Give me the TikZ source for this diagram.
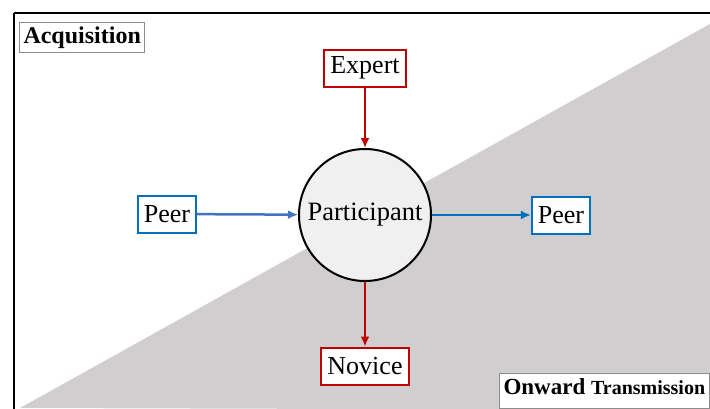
\documentclass[tikz,border=0pt]{standalone}
\usepackage{fontspec}
\setmainfont{Liberation Serif}
\usetikzlibrary{arrows.meta, positioning}
\definecolor{expertred}{RGB}{192,0,0}
\definecolor{peerblue}{RGB}{0,112,192}
\definecolor{peerlight}{RGB}{68,114,196}
\definecolor{shadegray}{RGB}{208,206,206}
\definecolor{circlefill}{RGB}{240,240,240}

\begin{document}
\begin{tikzpicture}[x=1pt, y=-1pt,
    redbox/.style={draw=expertred, line width=2pt, fill=white, inner xsep=6pt, minimum height=37pt, font=\fontsize{26}{26}\selectfont},
    bluebox/.style={draw=peerblue, line width=2pt, fill=white, inner xsep=6pt, minimum height=37pt, font=\fontsize{26}{26}\selectfont},
    labelbox/.style={draw=black!45, line width=1pt, fill=white, inner sep=4pt, font=\bfseries},
    redarrow/.style={draw=expertred, line width=2.5pt, -{Latex[length=10pt,width=9pt]}},
    bluearrow/.style={draw=peerblue, line width=2.5pt, -{Latex[length=10pt,width=9pt]}}
]
    \useasboundingbox (0,0) rectangle (710,408);
    \clip (0,0) rectangle (710,408);

    % background and shaded half
    \fill[white] (0,0) rectangle (710,408);
    \fill[shadegray] (20,408) -- (710,24) -- (712,410) -- cycle;
    \draw[line width=2pt] (13.5,13) -- (715,13);
    \draw[line width=2pt] (13.5,13) -- (13.5,415);

    % corner labels
    \node[labelbox, anchor=north west, font=\bfseries\fontsize{24}{24}\selectfont] (acq) at (19,22) {Acquisition};
    \node[labelbox, anchor=north west, text height=17pt, text depth=10pt] (onward) at (499,373)
        {\fontsize{23}{23}\selectfont Onward \fontsize{20}{20}\selectfont Transmission};

    % centre
    \node[circle, draw, line width=2pt, fill=circlefill, minimum size=132pt, inner sep=0pt,
        font=\fontsize{26.5}{26.5}\selectfont] (part) at (365,215) {Participant};

    \node[redbox] (expert) at (365,68) {Expert};
    \node[redbox] (novice) at (365,366) {Novice};
    \node[bluebox] (peerL) at (167,214) {Peer};
    \node[bluebox] (peerR) at (561,215) {Peer};

    % arrows
    \draw[redarrow] (expert) -- (part);
    \draw[redarrow] (part) -- (novice);
    \draw[bluearrow, draw=peerlight] (peerL) -- (part);
    \draw[bluearrow] (part) -- (peerR);
\end{tikzpicture}
\end{document}
